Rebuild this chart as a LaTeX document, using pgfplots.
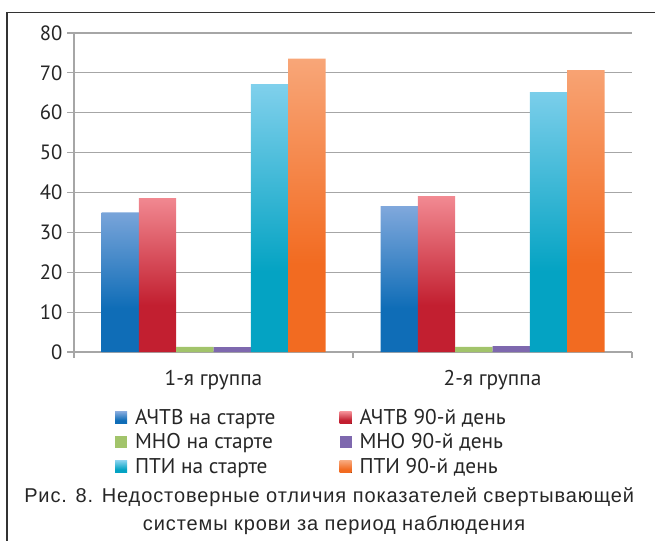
\documentclass[border=0pt]{standalone}
\usepackage{fontspec}
\setmainfont{PT Sans}
\newfontfamily\capfont[LetterSpace=4.5]{Liberation Sans}
\usepackage{pgfplots}
\pgfplotsset{compat=1.18}

\definecolor{bluedk}{HTML}{0F6DB7}
\definecolor{bluelt}{HTML}{80A8DC}
\definecolor{reddk}{HTML}{C21F30}
\definecolor{redlt}{HTML}{F28A92}
\definecolor{grn}{HTML}{A2C46B}
\definecolor{prp}{HTML}{7E68AE}
\definecolor{cyandk}{HTML}{04A3C3}
\definecolor{cyanlt}{HTML}{80D0EC}
\definecolor{orgdk}{HTML}{F26B21}
\definecolor{orglt}{HTML}{F8A678}
\definecolor{gridc}{HTML}{A6A6A6}

\pgfdeclareverticalshading{shblue}{100bp}{color(0bp)=(bluedk); color(25bp)=(bluedk); color(40bp)=(bluedk); color(75bp)=(bluelt); color(100bp)=(bluelt)}
\pgfdeclareverticalshading{shred}{100bp}{color(0bp)=(reddk); color(25bp)=(reddk); color(40bp)=(reddk); color(75bp)=(redlt); color(100bp)=(redlt)}
\pgfdeclareverticalshading{shcyan}{100bp}{color(0bp)=(cyandk); color(25bp)=(cyandk); color(40bp)=(cyandk); color(75bp)=(cyanlt); color(100bp)=(cyanlt)}
\pgfdeclareverticalshading{shorg}{100bp}{color(0bp)=(orgdk); color(25bp)=(orgdk); color(40bp)=(orgdk); color(75bp)=(orglt); color(100bp)=(orglt)}

\begin{document}
\begin{tikzpicture}
\useasboundingbox (0,0) rectangle (491.25pt,405pt);
% frame
\draw[line width=1.1pt, black!80] (5.25pt,-5pt) -- (5.25pt,395.6pt) -- (500pt,395.6pt);
\begin{axis}[
    at={(55.5pt,141pt)}, anchor=south west,
    scale only axis, width=418.5pt, height=239.25pt,
    xmin=-0.5, xmax=1.5, ymin=0, ymax=80,
    ytick={0,10,...,80},
    xtick={0,1}, xticklabels={1-я группа, 2-я группа},
    minor xtick={-0.5,0.5,1.5},
    major x tick style={draw=none},
    minor tick length=4.5pt,
    major tick length=5.25pt,
    tick align=outside,
    axis x line*=bottom, axis y line*=left,
    axis line style={gridc, line width=0.8pt},
    tick style={gridc, line width=0.8pt},
    ymajorgrids, grid style={gridc, line width=0.8pt},
    /pgf/number format/assume math mode=true,
    ticklabel style={font=\fontsize{15.5}{17}\selectfont, text=black!85},
    xticklabel style={yshift=-5pt, font=\fontsize{16}{18}\selectfont},
    ybar=0pt, bar width=28pt,
    legend columns=2,
    legend style={at={(0.066,-0.162)}, anchor=north west, draw=none, fill=none,
        font=\fontsize{16}{18}\selectfont, text=black!85,
        /tikz/every even column/.append style={column sep=46pt}, row sep=1.5pt},
    legend cell align=left,
    legend image code/.code={\fill (0pt,-4.5pt) rectangle (9pt,4.5pt); \path (13pt,0pt);},
]
\addplot[draw=none, shade, shading=shblue] coordinates {(0,35.0) (1,36.6)};
\addlegendentry{АЧТВ на старте}
\addplot[draw=none, shade, shading=shred] coordinates {(0,38.6) (1,39.1)};
\addlegendentry{АЧТВ 90-й день}
\addplot[draw=none, fill=grn] coordinates {(0,1.3) (1,1.3)};
\addlegendentry{МНО на старте}
\addplot[draw=none, fill=prp] coordinates {(0,1.2) (1,1.5)};
\addlegendentry{МНО 90-й день}
\addplot[draw=none, shade, shading=shcyan] coordinates {(0,67.2) (1,65.2)};
\addlegendentry{ПТИ на старте}
\addplot[draw=none, shade, shading=shorg] coordinates {(0,73.6) (1,70.7)};
\addlegendentry{ПТИ 90-й день}
\end{axis}
\node[anchor=base west, inner sep=0pt, font=\capfont\fontsize{15}{21}\selectfont, text=black!85] at (18pt,28.5pt)
  {Рис. 8. Недостоверные отличия показателей свертывающей};
\node[anchor=base west, inner sep=0pt, font=\capfont\fontsize{15}{21}\selectfont, text=black!85] at (107pt,7.5pt)
  {системы крови за период наблюдения};
\end{tikzpicture}
\end{document}
